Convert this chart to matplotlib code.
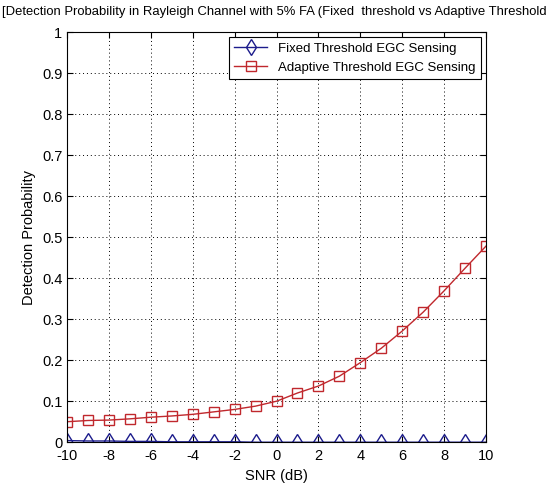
import matplotlib
matplotlib.use("Agg")
import matplotlib.pyplot as plt
import numpy as np

plt.rcParams["font.family"] = ["Liberation Sans", "DejaVu Sans"]
plt.rcParams["axes.unicode_minus"] = False

snr_db = list(range(-10, 11))
fixed_pd = [0.004, 0.003, 0.003, 0.002, 0.002, 0.001, 0.001, 0.001, 0.001, 0.0, 0.0,
            0.0, 0.0, 0.0, 0.0, 0.0, 0.0, 0.0, 0.0, 0.0, 0.0]
adaptive_pd = [0.050, 0.053, 0.054, 0.057, 0.061, 0.064, 0.068, 0.074, 0.080, 0.088, 0.100,
               0.120, 0.137, 0.161, 0.194, 0.229, 0.271, 0.317, 0.369, 0.424, 0.478]

title = "[Detection Probability in Rayleigh Channel with 5% FA (Fixed  threshold vs Adaptive Threshold"

fig = plt.figure(figsize=(5.46, 4.93), dpi=100)
ax = fig.add_axes([0.123, 0.103, 0.767, 0.832])

ax.plot(snr_db, fixed_pd, color="#1c1c8c", lw=1.0, marker="d", ms=8,
        mfc="none", mec="#1c1c8c", label="Fixed Threshold EGC Sensing")
ax.plot(snr_db, adaptive_pd, color="#c0282d", lw=1.0, marker="s", ms=7,
        mfc="none", mec="#c0282d", label="Adaptive Threshold EGC Sensing")

ax.set_xlim(-10, 10)
ax.set_ylim(0, 1)
ax.set_xticks(np.arange(-10, 11, 2))
ax.set_yticks(np.arange(0, 1.01, 0.1))
ax.set_yticklabels(["0", "0.1", "0.2", "0.3", "0.4", "0.5", "0.6", "0.7", "0.8", "0.9", "1"])
ax.tick_params(direction="in", length=4, labelsize=10.5, top=True, right=True)
ax.tick_params(axis="x", pad=5)
ax.grid(True, color="black", linestyle=(0, (1, 3)), linewidth=0.7)
ax.set_xlabel("SNR (dB)", fontsize=10.5)
ax.set_ylabel("Detection Probability", fontsize=10.5)

leg = ax.legend(loc="upper right", fontsize=9.5, fancybox=False, framealpha=1,
                edgecolor="black", borderaxespad=0.4, handlelength=2.5)
leg.get_frame().set_linewidth(0.8)

fig.text(0.004, 0.988, title, ha="left", va="top", fontsize=9.4)

fig.savefig("out.png", dpi=100)
